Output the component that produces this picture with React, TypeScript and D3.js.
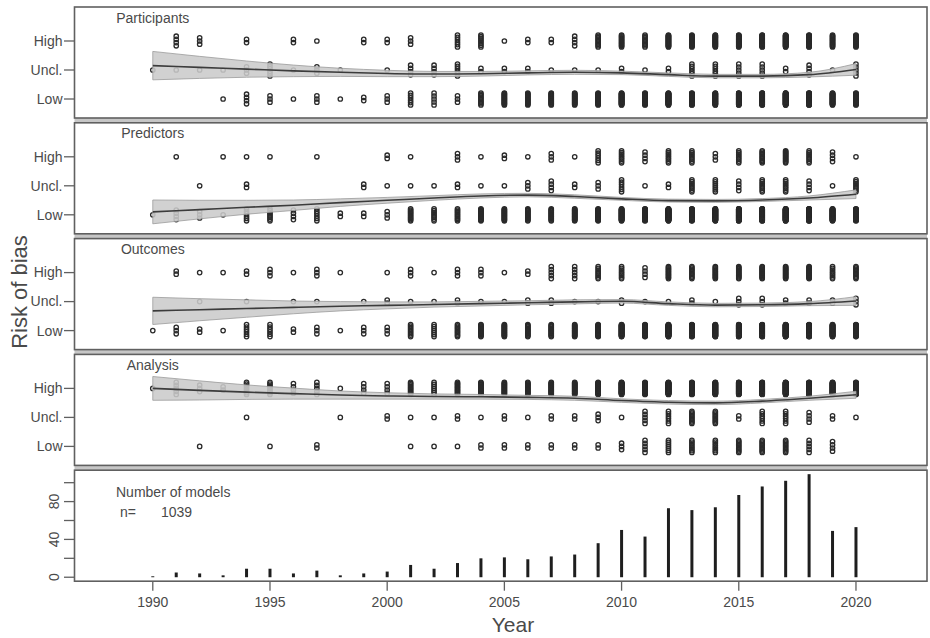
import React from 'react';
import * as d3 from 'd3';

const width = 930;
const height = 638;

// years on the x axis
const years = d3.range(1990, 2021);
const yearTicks = [1990, 1995, 2000, 2005, 2010, 2015, 2020];
const riskLevels = ['High', 'Uncl.', 'Low'];
const riskValues = [3, 2, 1];

// number of models per publication year (sums to 1039)
const modelsPerYear = [1, 5, 4, 2, 9, 9, 4, 7, 2, 4, 6, 13, 9, 15, 20, 21, 19, 22, 24, 36, 50, 43, 73, 71, 74, 87, 96, 102, 109, 49, 53];
const countTicks = [0, 20, 40, 60, 80, 100];
const countLabels = [0, 40, 80];

// risk of bias counts per year, one array per domain and level
const participantsHigh = [0, 4, 3, 0, 2, 0, 2, 1, 0, 2, 2, 3, 0, 6, 8, 1, 2, 2, 4, 10, 14, 10, 25, 24, 26, 30, 34, 38, 40, 16, 20];
const participantsUncl = [1, 1, 1, 1, 3, 6, 1, 3, 1, 0, 1, 4, 4, 6, 2, 2, 2, 1, 1, 1, 2, 1, 2, 6, 6, 5, 5, 2, 4, 1, 5];
const participantsLow = [0, 0, 0, 1, 4, 3, 1, 3, 1, 2, 3, 6, 5, 3, 10, 18, 15, 19, 19, 25, 34, 32, 46, 41, 42, 52, 57, 62, 65, 32, 28];

const predictorsHigh = [0, 1, 0, 1, 1, 1, 0, 1, 0, 0, 2, 1, 0, 3, 1, 2, 1, 3, 1, 6, 8, 4, 8, 8, 3, 8, 10, 14, 8, 4, 1];
const predictorsUncl = [0, 0, 1, 0, 2, 0, 0, 0, 0, 2, 1, 1, 1, 2, 1, 1, 3, 4, 2, 3, 6, 1, 2, 8, 7, 4, 8, 8, 4, 1, 8];
const predictorsLow = [1, 4, 3, 1, 6, 8, 4, 6, 2, 2, 3, 11, 8, 10, 18, 18, 15, 15, 21, 27, 36, 38, 63, 55, 64, 75, 78, 80, 97, 44, 44];

const outcomesHigh = [0, 2, 1, 1, 2, 3, 1, 3, 1, 0, 1, 3, 1, 3, 3, 1, 2, 5, 5, 8, 8, 4, 12, 10, 12, 14, 16, 16, 18, 8, 10];
const outcomesUncl = [0, 0, 1, 0, 1, 0, 1, 1, 0, 1, 2, 1, 1, 2, 1, 1, 2, 2, 1, 1, 2, 1, 1, 2, 1, 3, 3, 2, 2, 2, 3];
const outcomesLow = [1, 3, 2, 1, 6, 6, 2, 3, 1, 3, 3, 9, 7, 10, 16, 19, 15, 15, 18, 27, 40, 38, 60, 59, 61, 70, 77, 84, 89, 39, 40];

const analysisHigh = [1, 5, 3, 2, 8, 8, 4, 5, 1, 4, 4, 11, 7, 12, 17, 17, 16, 18, 20, 31, 46, 33, 60, 53, 56, 75, 80, 86, 100, 43, 52];
const analysisUncl = [0, 0, 0, 0, 1, 0, 0, 0, 1, 0, 2, 1, 1, 2, 1, 2, 1, 2, 2, 3, 1, 5, 6, 10, 10, 2, 6, 6, 4, 2, 1];
const analysisLow = [0, 0, 1, 0, 0, 1, 0, 2, 0, 0, 0, 1, 1, 1, 2, 2, 2, 2, 2, 2, 3, 5, 7, 8, 8, 10, 10, 10, 5, 4, 0];

// smoothed trend (Low = 1, Uncl. = 2, High = 3) and half width of its band
const trendYears = [1990, 1992, 1994, 1996, 1998, 2000, 2002, 2004, 2006, 2008, 2010, 2012, 2014, 2016, 2018, 2020];
const participantsFit = [2.15, 2.09, 2.03, 1.97, 1.92, 1.88, 1.86, 1.87, 1.9, 1.92, 1.9, 1.84, 1.79, 1.79, 1.84, 2.02];
const participantsCI = [0.49, 0.38, 0.28, 0.2, 0.14, 0.11, 0.09, 0.08, 0.07, 0.07, 0.06, 0.06, 0.06, 0.06, 0.08, 0.2];
const predictorsFit = [1.1, 1.18, 1.26, 1.33, 1.42, 1.5, 1.58, 1.65, 1.68, 1.63, 1.55, 1.49, 1.48, 1.51, 1.58, 1.71];
const predictorsCI = [0.41, 0.32, 0.24, 0.18, 0.13, 0.1, 0.08, 0.07, 0.06, 0.06, 0.05, 0.05, 0.05, 0.05, 0.07, 0.15];
const outcomesFit = [1.68, 1.72, 1.76, 1.8, 1.84, 1.87, 1.9, 1.93, 1.96, 1.99, 2.01, 1.93, 1.88, 1.89, 1.93, 2.02];
const outcomesCI = [0.47, 0.38, 0.3, 0.22, 0.16, 0.12, 0.09, 0.08, 0.07, 0.07, 0.06, 0.06, 0.06, 0.06, 0.07, 0.15];
const analysisFit = [3.0, 2.93, 2.87, 2.82, 2.77, 2.74, 2.72, 2.71, 2.69, 2.66, 2.58, 2.52, 2.5, 2.56, 2.66, 2.78];
const analysisCI = [0.41, 0.33, 0.25, 0.19, 0.14, 0.11, 0.09, 0.08, 0.07, 0.07, 0.06, 0.06, 0.06, 0.06, 0.07, 0.12];

const panels = [
  { title: 'Participants', counts: [participantsHigh, participantsUncl, participantsLow], fit: participantsFit, ci: participantsCI },
  { title: 'Predictors', counts: [predictorsHigh, predictorsUncl, predictorsLow], fit: predictorsFit, ci: predictorsCI },
  { title: 'Outcomes', counts: [outcomesHigh, outcomesUncl, outcomesLow], fit: outcomesFit, ci: outcomesCI },
  { title: 'Analysis', counts: [analysisHigh, analysisUncl, analysisLow], fit: analysisFit, ci: analysisCI },
];

const font = '"Liberation Sans", Arial, Helvetica, sans-serif';
const textColor = '#4a4a4a';
const frameColor = '#606060';

const left = 74.5;
const right = 927;
const firstTop = 7;
const panelStep = 115.8;
const panelHeight = 111;

const x = d3.scaleLinear().domain([1986.66, 2023.03]).range([left, right]);

const App: React.FC = () => {
  const tops = d3.range(5).map(i => firstTop + i * panelStep);
  const barTop = tops[4];
  const barBottom = barTop + panelHeight;
  const yCount = d3.scaleLinear().domain([-4.2, 113.2]).range([barBottom, barTop]);

  return (
    <svg width={width} height={height} style={{ position: 'absolute', left: 0, top: 0, background: '#fff' }}
      fontFamily={font}>
      {/* grey strips between stacked panels */}
      {tops.slice(1).map((t, i) => (
        <rect key={'gap' + i} x={left} y={t - (panelStep - panelHeight)} width={right - left}
          height={panelStep - panelHeight} fill="#c6c6c6" />
      ))}

      {panels.map((p, pi) => {
        const top = tops[pi];
        const y = d3.scaleLinear().domain([0.345, 4.172]).range([top + panelHeight, top]);
        const area = d3.area<number>()
          .x((_, i) => x(trendYears[i]))
          .y0((f, i) => y(f - p.ci[i]))
          .y1((f, i) => y(f + p.ci[i]))
          .curve(d3.curveMonotoneX);
        const line = d3.line<number>()
          .x((_, i) => x(trendYears[i]))
          .y(f => y(f))
          .curve(d3.curveMonotoneX);
        return (
          <g key={p.title}>
            <rect x={left} y={top} width={right - left} height={panelHeight} fill="#fff"
              stroke={frameColor} strokeWidth={1.6} />
            <text x={x(1990)} y={top + 15.5} textAnchor="middle" fontSize={14} fill={textColor}>{p.title}</text>
            {riskLevels.map((lab, li) => (
              <g key={lab}>
                <line x1={left - 10.5} x2={left} y1={y(riskValues[li])} y2={y(riskValues[li])}
                  stroke={frameColor} strokeWidth={1.3} />
                <text x={left - 12} y={y(riskValues[li])} dy="0.35em" textAnchor="end" fontSize={14}
                  fill={textColor}>{lab}</text>
              </g>
            ))}
            {/* stacked open circles, one per model */}
            {p.counts.map((arr, li) => arr.map((n, yi) => {
              if (!n) return null;
              const spread = n <= 1 ? 0 : Math.min(6, (n - 1) * 1.6);
              const cy = y(riskValues[li]);
              return d3.range(n).map(k => {
                const off = n <= 1 ? 0 : -spread + (2 * spread * k) / (n - 1);
                return (
                  <circle key={`${li}-${yi}-${k}`} cx={x(years[yi])} cy={cy + off} r={2.2}
                    fill="none" stroke="#2a2a2a" strokeWidth={1.3} />
                );
              });
            }))}
            <path d={area(p.fit) || ''} fill="#cbcbcb" fillOpacity={0.88} stroke="#9a9a9a" strokeWidth={0.8} />
            <path d={line(p.fit) || ''} fill="none" stroke="#3c3c3c" strokeWidth={1.6} />
          </g>
        );
      })}

      {/* number of models panel */}
      <rect x={left} y={barTop} width={right - left} height={panelHeight} fill="#fff"
        stroke={frameColor} strokeWidth={1.6} />
      {modelsPerYear.map((v, i) => (
        <line key={'bar' + i} x1={x(years[i])} x2={x(years[i])} y1={yCount(0)} y2={yCount(v)}
          stroke="#1e1e1e" strokeWidth={3} />
      ))}
      {countTicks.map(t => (
        <line key={'ct' + t} x1={left - 10.5} x2={left} y1={yCount(t)} y2={yCount(t)}
          stroke={frameColor} strokeWidth={1.3} />
      ))}
      {countLabels.map(t => (
        <text key={'cl' + t} transform={`translate(58.5, ${yCount(t)}) rotate(-90)`} textAnchor="middle"
          fontSize={14} fill={textColor}>{t}</text>
      ))}
      <text x={116} y={497.3} fontSize={14} fill={textColor}>Number of models</text>
      <text x={120} y={516.7} fontSize={14} fill={textColor}>n=</text>
      <text x={161} y={516.7} fontSize={14} fill={textColor}>{d3.sum(modelsPerYear)}</text>

      {/* year axis */}
      {yearTicks.map(t => (
        <g key={'yt' + t}>
          <line x1={x(t)} x2={x(t)} y1={barBottom} y2={barBottom + 9.5} stroke={frameColor} strokeWidth={1.3} />
          <text x={x(t)} y={606.7} textAnchor="middle" fontSize={14} fill={textColor}>{t}</text>
        </g>
      ))}
      <text x={513} y={632} textAnchor="middle" fontSize={21} fill={textColor}>Year</text>
      <text transform="translate(27, 292) rotate(-90)" textAnchor="middle" fontSize={22} fill={textColor}>Risk of bias</text>
    </svg>
  );
};

export default App;
